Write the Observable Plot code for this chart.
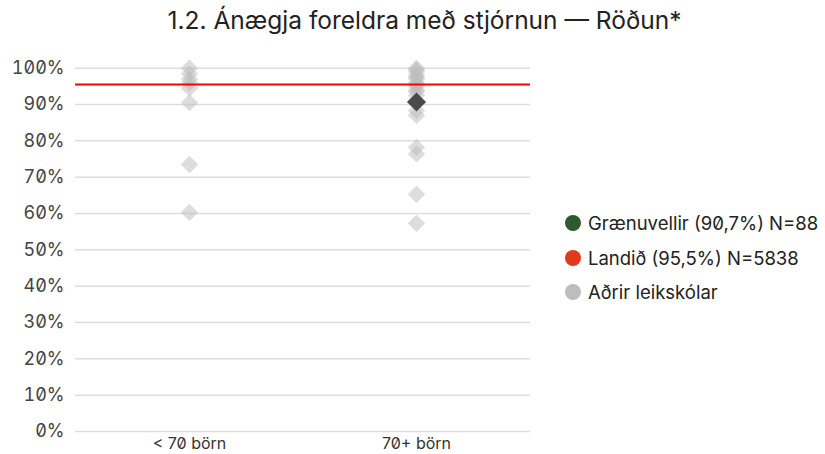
<!DOCTYPE html>
<html>
<head>
<meta charset="utf-8">
<script src="https://cdn.jsdelivr.net/npm/d3@7"></script>
<script src="https://cdn.jsdelivr.net/npm/@observablehq/plot@0.6"></script>
<style>
  body { margin: 0; background: #fff; font-family: Inter, "Noto Sans", sans-serif; font-feature-settings: "zero" 1; overflow: hidden; }
  #title { width: 825px; height: 39px; line-height: 40px; text-align: center; font-size: 24.5px; color: #222; padding-left: 24px; box-sizing: border-box; }
  #row { display: flex; align-items: center; }
  #legend { margin-left: 20px; margin-top: 22px; font-size: 18.5px; color: #222; white-space: nowrap; }
  .item { display: flex; align-items: center; height: 34.5px; }
  .sw { width: 16px; height: 16px; border-radius: 50%; margin-right: 7px; flex: none; }
  svg text { font-feature-settings: "zero" 1; }
</style>
</head>
<body>
<div id="title">1.2. Ánægja foreldra með stjórnun — Röðun*</div>
<div id="row"><div id="chart"></div><div id="legend"></div></div>
<script>
const categories = ["< 70 börn", "70+ börn"];
const small = [100, 98.5, 97, 96, 94.5, 90.5, 73.5, 60.3];
const large = [100, 99.5, 99, 98, 97.5, 97, 96, 95.5, 95, 94, 93.5, 92.5, 88.3, 87, 78.2, 76.4, 65.3, 57.3];
const schoolName = "Grænuvellir";
const schoolCategory = "70+ börn";
const schoolValue = 90.7;
const schoolN = 88;
const nationalValue = 95.5;
const nationalN = 5838;
const yTicks = [0, 10, 20, 30, 40, 50, 60, 70, 80, 90, 100];
const colors = { school: "#2e5a2e", national: "#e0391b", others: "#bdbdbd" };

const others = [
  ...small.map(v => ({ cat: categories[0], v })),
  ...large.map(v => ({ cat: categories[1], v }))
];

const chart = Plot.plot({
  width: 545,
  height: 415,
  marginLeft: 75,
  marginRight: 15,
  marginTop: 28.7,
  marginBottom: 23,
  style: { fontFamily: "Inter, 'Noto Sans', sans-serif", background: "#fff", overflow: "visible" },
  x: { type: "point", domain: categories, padding: 0.5, label: null },
  y: { domain: [0, 100], ticks: yTicks, label: null },
  marks: [
    Plot.ruleY(yTicks, { stroke: "#ddd", strokeWidth: 1.5 }),
    Plot.axisY({ ticks: yTicks, tickSize: 0, tickPadding: 11, fontSize: 18, fill: "#444", tickFormat: d => d + "%", label: null }),
    Plot.axisX({ tickSize: 0, tickPadding: 6, fontSize: 16, fill: "#333", label: null }),
    Plot.dot(others, { x: "cat", y: "v", symbol: "diamond2", r: 7.8, fill: "#bbb", fillOpacity: 0.5, stroke: "none" }),
    Plot.ruleY([nationalValue], { stroke: "#ff0000", strokeWidth: 2 }),
    Plot.dot([{ cat: schoolCategory, v: schoolValue }], { x: "cat", y: "v", symbol: "diamond2", r: 8.6, fill: "#4a4a4a", stroke: "none" })
  ]
});
document.getElementById("chart").appendChild(chart);

const fmt = v => String(v).replace(".", ",");
const items = [
  { c: colors.school, t: `${schoolName} (${fmt(schoolValue)}%) N=${schoolN}` },
  { c: colors.national, t: `Landið (${fmt(nationalValue)}%) N=${nationalN}` },
  { c: colors.others, t: "Aðrir leikskólar" }
];
const lg = document.getElementById("legend");
for (const it of items) {
  const d = document.createElement("div");
  d.className = "item";
  d.innerHTML = `<span class="sw" style="background:${it.c}"></span><span>${it.t}</span>`;
  lg.appendChild(d);
}
</script>
</body>
</html>
